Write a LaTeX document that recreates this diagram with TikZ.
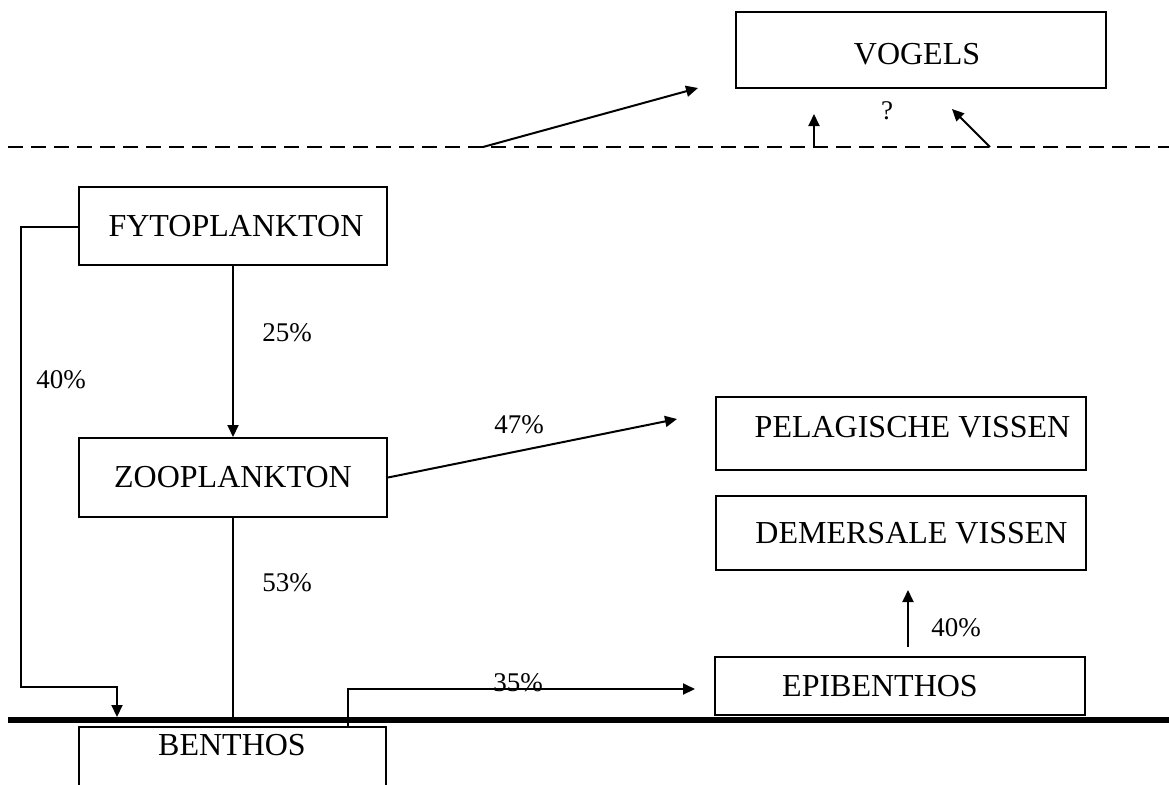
\documentclass[tikz,border=0pt]{standalone}
\usepackage{fontspec}
\setmainfont{Liberation Serif}
\usetikzlibrary{arrows.meta}
\begin{document}
\begin{tikzpicture}[x=0.5pt, y=-0.5pt,
  box/.style={draw, line width=1pt, inner sep=0pt},
  boxtext/.style={font=\fontsize{16}{19}\selectfont, inner sep=0pt},
  pct/.style={font=\fontsize{13.5}{16}\selectfont, inner sep=0pt},
  link/.style={line width=1pt, -{Triangle[length=6pt,width=5.5pt]}},
  plain/.style={line width=1pt}]
\useasboundingbox (0,0) rectangle (1169,784);
\clip (0,0) rectangle (1169,784);

% water surface and sea floor
\draw[line width=1pt, dash pattern=on 7.5pt off 4pt] (8,147) -- (1169,147);
\draw[line width=3pt] (8,720) -- (1169,720);

% compartments
\node[box, minimum width=185pt, minimum height=38pt,
      label={[boxtext, xshift=-2pt, yshift=-2pt]center:VOGELS}] (vogels) at (921,50) {};
\node[box, minimum width=154pt, minimum height=39pt,
      label={[boxtext, xshift=1.5pt]center:FYTOPLANKTON}] (fyto) at (233,226) {};
\node[box, minimum width=154pt, minimum height=39.5pt,
      label={[boxtext]center:ZOOPLANKTON}] (zoo) at (233,477.5) {};
\node[box, minimum width=185pt, minimum height=36.5pt,
      label={[boxtext, xshift=6pt, yshift=3pt]center:PELAGISCHE VISSEN}] (pel) at (900.5,433.5) {};
\node[box, minimum width=185pt, minimum height=37pt,
      label={[boxtext, xshift=5.5pt]center:DEMERSALE VISSEN}] (dem) at (900.5,533) {};
\node[box, minimum width=185pt, minimum height=29pt,
      label={[boxtext, xshift=-10pt]center:EPIBENTHOS}] (epi) at (900,686) {};
\node[box, minimum width=153.5pt, minimum height=43pt] (benthos) at (232.5,770) {};
\node[boxtext] (benthoslabel) at (232,745) {BENTHOS};

% flows above the water surface
\coordinate (s1) at (483,147);
\coordinate (t1) at (698,88);
\coordinate (s2) at (814,147);
\coordinate (t2) at (814,114);
\coordinate (s3) at (990,147);
\coordinate (t3) at (952,109);
\draw[link] (s1) -- (t1);
\draw[link] (s2) -- (t2);
\draw[link] (s3) -- (t3);
\node[pct] (q) at (887,111) {?};

% flows in the water column
\coordinate (bendA) at (21,227);
\coordinate (bendB) at (21,687);
\coordinate (bendC) at (117,687);
\coordinate (floorA) at (117,717);
\draw[link] (fyto.west |- bendA) -- (bendA) -- (bendB) -- (bendC) -- (floorA);
\node[pct] (p40a) at (61,380) {40\%};

\draw[link] (fyto.south) -- (zoo.north);
\node[pct] (p25) at (287,333) {25\%};

\coordinate (pelin) at (677,419);
\draw[link] (zoo.east) -- (pelin);
\node[pct] (p47) at (519,425) {47\%};

\coordinate (floorZ) at (233,720);
\draw[plain] (zoo.south) -- (floorZ);
\node[pct] (p53) at (287,583) {53\%};

% flows from the sea floor
\coordinate (up35) at (348,689);
\coordinate (epiin) at (695,689);
\draw[link] (benthos.north -| up35) -- (up35) -- (epiin);
\node[pct] (p35) at (518,683) {35\%};

\coordinate (demin) at (908,590);
\draw[link] (908,647) -- (demin);
\node[pct] (p40b) at (956,628) {40\%};
\end{tikzpicture}
\end{document}
